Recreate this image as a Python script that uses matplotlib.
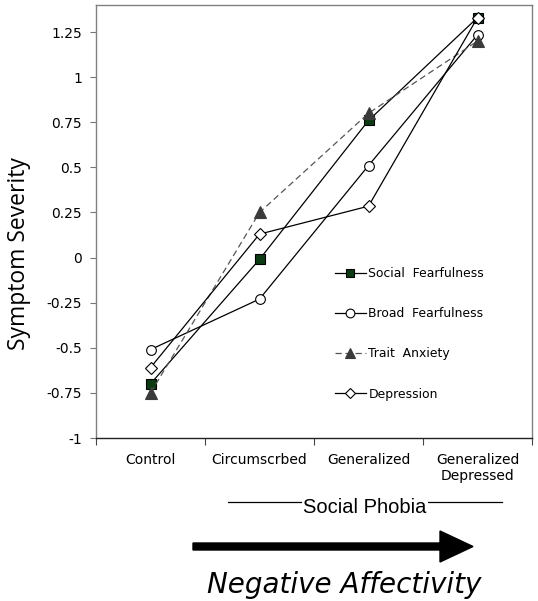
import matplotlib
matplotlib.use("Agg")
import matplotlib.pyplot as plt
from matplotlib.lines import Line2D
from matplotlib.patches import FancyArrow

categories = ["Control", "Circumscrbed", "Generalized", "Generalized\nDepressed"]
social_fearfulness = [-0.70, -0.01, 0.76, 1.33]
broad_fearfulness = [-0.51, -0.23, 0.51, 1.235]
trait_anxiety = [-0.75, 0.25, 0.80, 1.20]
depression = [-0.61, 0.13, 0.285, 1.33]
yticks = [-1, -0.75, -0.5, -0.25, 0, 0.25, 0.5, 0.75, 1, 1.25]
ytick_labels = ["-1", "-0.75", "-0.5", "-0.25", "0", "0.25", "0.5", "0.75", "1", "1.25"]

W, H = 538, 601
fig = plt.figure(figsize=(W / 100, H / 100), dpi=100)
ax = fig.add_axes([96 / W, 1 - 438 / H, (532 - 96) / W, (438 - 5) / H])

x = [0.5, 1.5, 2.5, 3.5]
ax.plot(x, social_fearfulness, color="black", lw=0.9, marker="s", ms=7,
        mfc="#0c3a12", mec="black", mew=0.8, label="Social  Fearfulness", zorder=3)
ax.plot(x, broad_fearfulness, color="black", lw=0.9, marker="o", ms=7,
        mfc="white", mec="black", mew=0.8, label="Broad  Fearfulness", zorder=3)
ax.plot(x, trait_anxiety, color="#555555", lw=0.9, ls=(0, (5, 3)), marker="^", ms=8,
        mfc="#3a3a3a", mec="#3a3a3a", mew=0.8, label="Trait  Anxiety", zorder=3)
ax.plot(x, depression, color="black", lw=0.9, marker="D", ms=6.2,
        mfc="white", mec="black", mew=0.8, label="Depression", zorder=4)

ax.set_xlim(0, 4)
ax.set_ylim(-1, 1.40)
ax.set_yticks(yticks)
ax.set_yticklabels(ytick_labels, fontsize=10)
ax.set_xticks([0, 1, 2, 3, 4])
ax.set_xticklabels([])
ax.set_xticks(x, minor=True)
ax.set_xticklabels(categories, minor=True, fontsize=10, va="top", linespacing=1.15)
ax.tick_params(axis="x", which="major", direction="out", length=5, width=0.8, color="#444444")
ax.tick_params(axis="x", which="minor", length=0, pad=11)
ax.tick_params(axis="y", direction="out", length=4, width=0.8, color="#777777", pad=6)

for s in ["left", "top", "right"]:
    ax.spines[s].set_color("#808080")
    ax.spines[s].set_linewidth(1.0)
ax.spines["bottom"].set_color("#222222")
ax.spines["bottom"].set_linewidth(1.0)

ax.set_ylabel("Symptom Severity", fontsize=16.5, family=["Open Sans", "DejaVu Sans"])
ax.yaxis.set_label_coords(-(96 - 31) / (532 - 96), 0.5 - (253.5 - 221.5) / 433)

leg = ax.legend(loc="upper left", bbox_to_anchor=((335 - 96) / 436, 1 - (267 - 5) / 433),
                frameon=False, fontsize=8.9, handlelength=2.5, handletextpad=0.2,
                labelspacing=2.2, borderpad=0, borderaxespad=0, markerscale=0.9)

# Social Phobia bracket
fig.add_artist(Line2D([228 / W, 502 / W], [1 - 502 / H, 1 - 502 / H], color="black", lw=0.9))
fig.text(365 / W, 1 - 513 / H, "Social Phobia", ha="center", va="baseline", fontsize=14.5,
         family=["Liberation Sans", "DejaVu Sans"],
         bbox=dict(facecolor="white", edgecolor="none", pad=1))

# Arrow
fig.add_artist(FancyArrow(193, H - 546.5, 473 - 193, 0, width=7, head_width=31,
                          head_length=33, length_includes_head=True, color="black",
                          transform=None))
fig.text(344 / W, 1 - 593 / H, "Negative Affectivity", ha="center", va="baseline",
         fontsize=20, style="italic")

fig.savefig("out.png", dpi=100)
